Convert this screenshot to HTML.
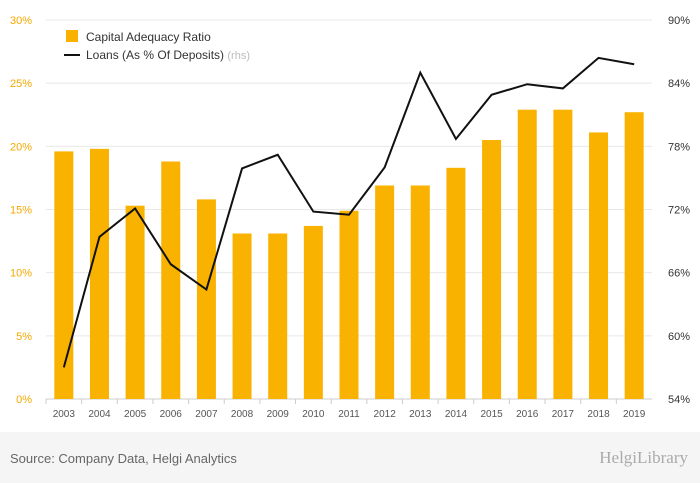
<!DOCTYPE html>
<html><head><meta charset="utf-8"><style>
body{margin:0;width:700px;height:483px;background:#fff;font-family:"Liberation Sans",sans-serif;overflow:hidden}
#footer{position:absolute;left:0;top:432px;width:700px;height:51px;background:#f5f5f5}
</style></head><body>
<svg id="chart" width="700" height="432" style="position:absolute;left:0;top:0"></svg>
<div id="footer">
<div style="position:absolute;left:10px;top:19px;font-size:13px;color:#666">Source: Company Data, Helgi Analytics</div>
<div style="position:absolute;right:12px;top:16px;font-size:17px;color:#aaa;font-family:'Liberation Serif',serif">HelgiLibrary</div>
</div>
<script>
const years=["2003","2004","2005","2006","2007","2008","2009","2010","2011","2012","2013","2014","2015","2016","2017","2018","2019"];
const car=[19.6,19.8,15.3,18.8,15.8,13.1,13.1,13.7,14.9,16.9,16.9,18.3,20.5,22.9,22.9,21.1,22.7];
const loans=[57.0,69.4,72.1,66.8,64.4,75.9,77.2,71.8,71.5,76.0,85.0,78.7,82.9,83.9,83.5,86.4,85.8];
const leftTicks=[0,5,10,15,20,25,30];
const rightTicks=[54,60,66,72,78,84,90];
const NS="http://www.w3.org/2000/svg";
const svg=document.getElementById('chart');
const X0=46,X1=652,Y0=399,Y1=20;
const step=(X1-X0)/years.length;
const xc=i=>X0+step*(i+0.5);
const yl=v=>Y0-(v-0)/(30-0)*(Y0-Y1);
const yr=v=>Y0-(v-54)/(90-54)*(Y0-Y1);
function el(t,a){const e=document.createElementNS(NS,t);for(const k in a)e.setAttribute(k,a[k]);svg.appendChild(e);return e;}
leftTicks.forEach((t,i)=>{
 const g=el('line',{x1:X0,x2:X1,y1:yl(t),y2:yl(t),stroke:i==0?'#ccc':'#e8e8e8','stroke-width':1});
 
 
 const l=el('text',{x:32,y:yl(t)+4,'text-anchor':'end','font-size':11,fill:'#f5a800'});l.textContent=t+'%';
 
 
});
rightTicks.forEach(t=>{
 const l=el('text',{x:668,y:yr(t)+4,'font-size':11,fill:'#333'});l.textContent=t+'%';
 
 
});
years.forEach((y,i)=>{
 const b=el('rect',{x:xc(i)-9.5,y:yl(car[i]),width:19,height:Y0-yl(car[i]),fill:'#f9b200'});
 
 
 const t=el('text',{x:xc(i),y:417,'text-anchor':'middle','font-size':10,fill:'#555'});t.textContent=y;
 
 
 const tk=el('line',{x1:X0+step*i,x2:X0+step*i,y1:Y0,y2:Y0+5,stroke:'#ccc'});
 
 
});
const p=el('polyline',{points:loans.map((v,i)=>xc(i)+','+yr(v)).join(' '),fill:'none',stroke:'#111','stroke-width':2});


const l1=el('rect',{x:66,y:30,width:12,height:12,fill:'#f9b200'});


const t1=el('text',{x:86,y:41,'font-size':12,fill:'#333'});t1.textContent='Capital Adequacy Ratio';


const l2=el('line',{x1:64,x2:80,y1:55,y2:55,stroke:'#111','stroke-width':2});


const t2=el('text',{x:86,y:59,'font-size':12,fill:'#333'});t2.innerHTML='Loans (As % Of Deposits) <tspan fill="#bbb" font-size="11">(rhs)</tspan>';


</script>
</body></html>
